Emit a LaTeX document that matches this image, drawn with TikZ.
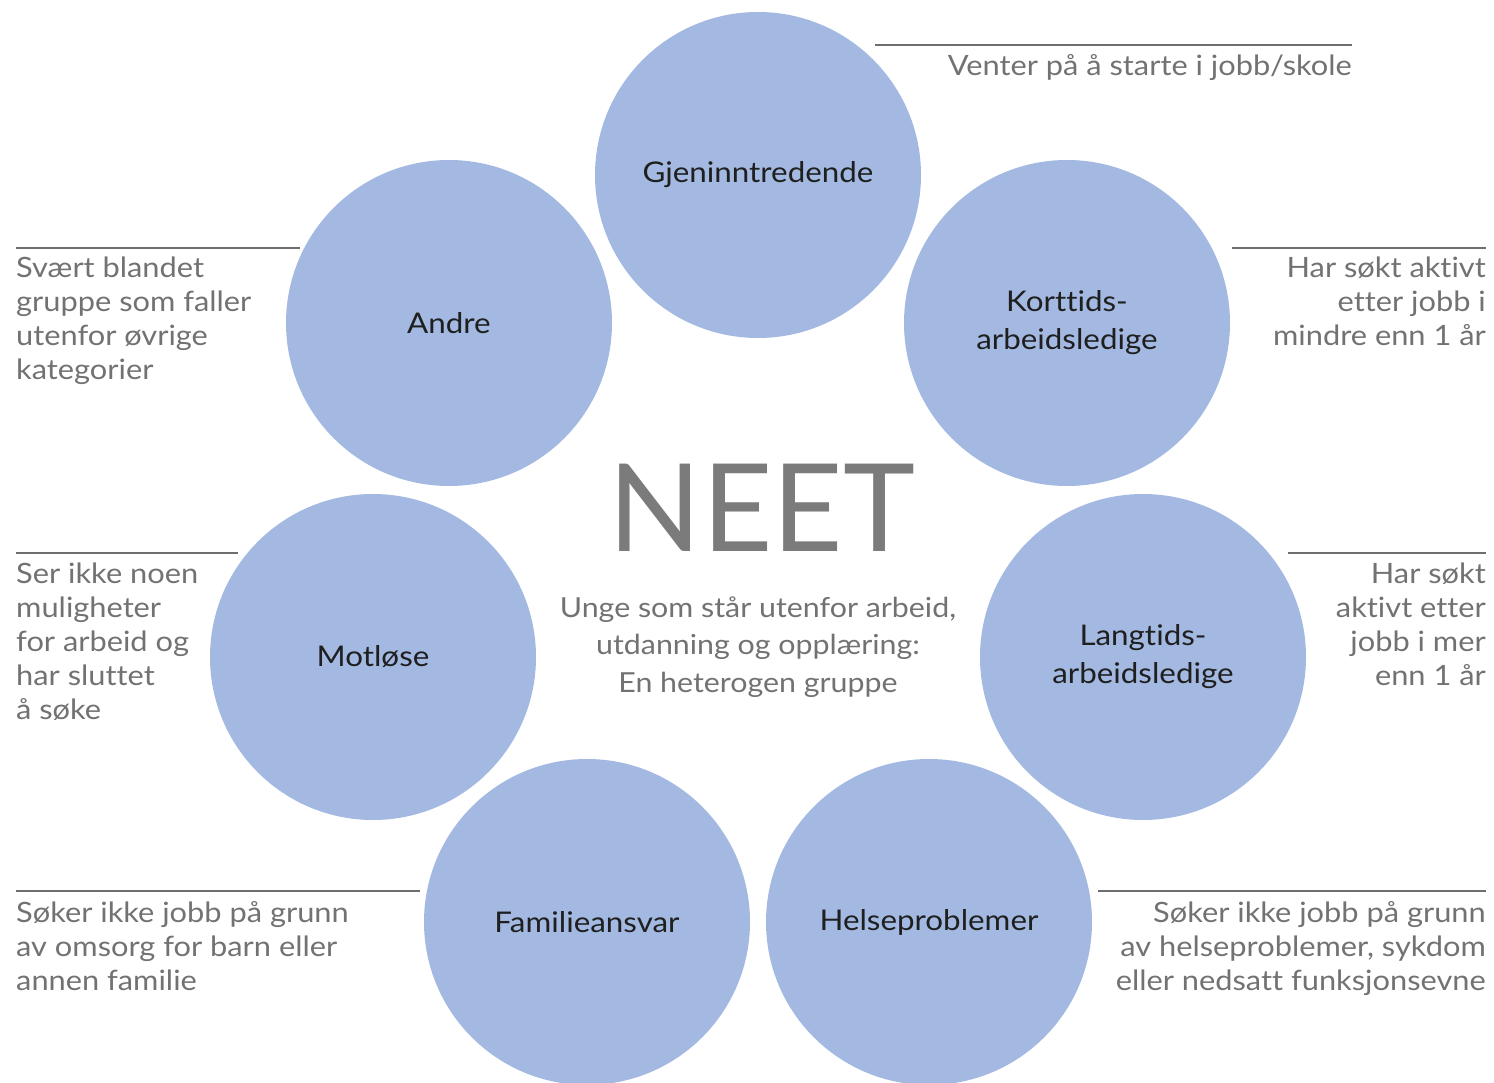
\documentclass[tikz,border=0pt]{standalone}
\usepackage{fontspec}
\setmainfont{Lato}[FakeStretch=1.1, Ligatures=NoCommon]
\newfontfamily\neetfont{Lato}
\definecolor{circ}{HTML}{A3B9E1}
\definecolor{txtgray}{HTML}{727272}
\definecolor{neetgray}{HTML}{7B7B7B}
\definecolor{rulegray}{HTML}{6E6E6E}
\begin{document}
\begin{tikzpicture}[x=1pt,y=-1pt,
  cat/.style={circle, fill=circ, minimum size=326pt, inner sep=0pt,
    font=\fontsize{28.5}{38}\selectfont, text=black!88, align=center},
  desc/.style={inner sep=0pt, text=txtgray, font=\fontsize{28}{34}\selectfont},
  ctext/.style={inner sep=0pt, text=txtgray, font=\fontsize{27.6}{37.5}\selectfont},
  rulel/.style={draw=rulegray, line width=2.5pt}]
\useasboundingbox (0,0) rectangle (1494,1083);
\clip (0,0) rectangle (1494,1083);

% circles
\node[cat] (gjen) at (758,175) {Gjeninntredende};
\node[cat] (andre) at (449,323) {Andre};
\node[cat] (kort) at (1067,323) {\raisebox{-3pt}{\begin{tabular}{@{}c@{}}Korttids-\\arbeidsledige\end{tabular}}};
\node[cat] (motl) at (373,657) {Motløse};
\node[cat] (lang) at (1143,657) {\raisebox{-3pt}{\begin{tabular}{@{}c@{}}Langtids-\\arbeidsledige\end{tabular}}};
\node[cat] (fam) at (587,922) {Familieansvar};
\node[cat] (helse) at (929,922) {Helseproblemer};

% centre
\node[anchor=base, inner sep=0pt, text=neetgray, font=\neetfont\fontsize{122}{122}\selectfont] (neet) at (762,551) {NEET};
\node[ctext, anchor=base] (sub) at (758,617) {\begin{tabular}[t]{@{}c@{}}Unge som står utenfor arbeid,\\utdanning og opplæring:\\En heterogen gruppe\end{tabular}};

% descriptions
\node[desc, anchor=base east] (dgjen) at (1352,76) {\begin{tabular}[t]{@{}r@{}}Venter på å starte i jobb/skole\end{tabular}};
\node[desc, anchor=base west] (dandre) at (16,278) {\begin{tabular}[t]{@{}l@{}}Svært blandet\\gruppe som faller\\utenfor øvrige\\kategorier\end{tabular}};
\node[desc, anchor=base east] (dkort) at (1486,278) {\begin{tabular}[t]{@{}r@{}}Har søkt aktivt\\etter jobb i\\mindre enn 1 år\end{tabular}};
\node[desc, anchor=base west] (dmotl) at (16,583) {\begin{tabular}[t]{@{}l@{}}Ser ikke noen\\muligheter\\for arbeid og\\har sluttet\\å søke\end{tabular}};
\node[desc, anchor=base east] (dlang) at (1486,583) {\begin{tabular}[t]{@{}r@{}}Har søkt\\aktivt etter\\jobb i mer\\enn 1 år\end{tabular}};
\node[desc, anchor=base west] (dfam) at (16,922) {\begin{tabular}[t]{@{}l@{}}Søker ikke jobb på grunn\\av omsorg for barn eller\\annen familie\end{tabular}};
\node[desc, anchor=base east] (dhelse) at (1486,922) {\begin{tabular}[t]{@{}r@{}}Søker ikke jobb på grunn\\av helseproblemer, sykdom\\eller nedsatt funksjonsevne\end{tabular}};

% rules
\coordinate (r1a) at (875,45);  \coordinate (r1b) at (1352,45);
\coordinate (r2a) at (16,248);  \coordinate (r2b) at (300,248);
\coordinate (r3a) at (1232,248); \coordinate (r3b) at (1486,248);
\coordinate (r4a) at (16,553);  \coordinate (r4b) at (238,553);
\coordinate (r5a) at (1288,553); \coordinate (r5b) at (1486,553);
\coordinate (r6a) at (16,891);  \coordinate (r6b) at (420,891);
\coordinate (r7a) at (1098,891); \coordinate (r7b) at (1486,891);
\foreach \i in {1,...,7} { \draw[rulel] (r\i a) -- (r\i b); }
\end{tikzpicture}
\end{document}
